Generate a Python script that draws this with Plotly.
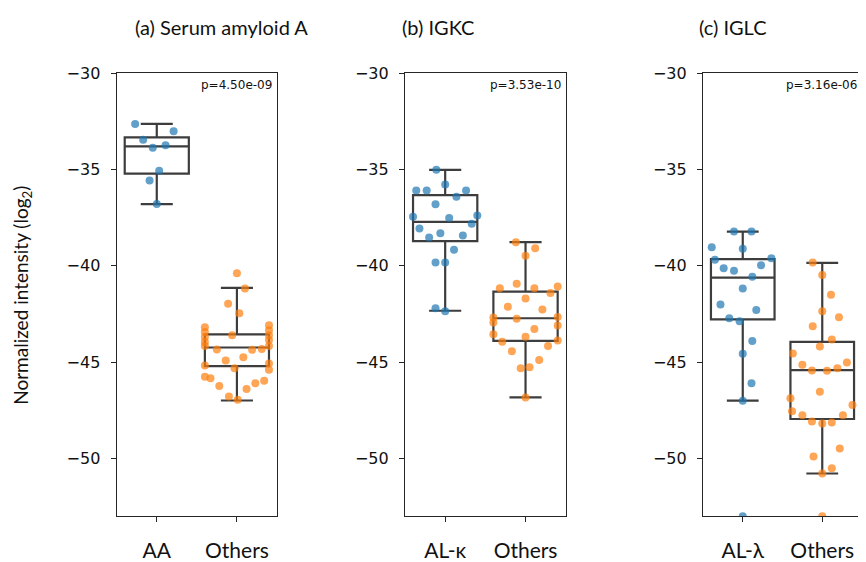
import plotly.graph_objects as go

# ---------------- data ----------------
panel_titles = ["(a) Serum amyloid A", "(b) IGKC", "(c) IGLC"]
p_values = ["p=4.50e-09", "p=3.53e-10", "p=3.16e-06"]
x_labels_a = ["AA", "Others"]
x_labels_b = ["AL-κ", "Others"]
x_labels_c = ["AL-λ", "Others"]
y_ticks = [-30, -35, -40, -45, -50]

# panel (a)
a_aa_vals = [-32.63, -33.01, -33.45, -33.87, -33.74, -35.06, -35.57, -36.79]
a_aa_jit = [-0.27, 0.21, -0.17, -0.05, 0.11, 0.03, -0.09, 0.0]
a_oth_vals = [-40.38, -41.17, -41.97, -42.46,
              -43.19, -43.44, -43.70, -43.95, -44.16,
              -43.09, -43.34, -43.60, -43.85, -44.16,
              -43.60, -44.34, -44.36, -44.32, -44.92, -44.74, -45.17, -45.07,
              -45.39, -45.31, -45.76, -45.83, -46.24, -45.96, -46.09, -46.39,
              -46.78, -46.95]
a_oth_jit = [0.0, 0.10, -0.11, 0.03,
             -0.4, -0.4, -0.4, -0.4, -0.4,
             0.4, 0.4, 0.4, 0.4, 0.4,
             -0.06, -0.25, 0.19, 0.31, -0.14, 0.08, -0.4, 0.4,
             0.4, -0.03, -0.4, -0.33, -0.22, 0.34, 0.23, 0.12,
             -0.10, 0.01]

# panel (b)
b_k_vals = [-35.01, -35.78, -36.09, -36.09, -36.09, -36.41, -36.80, -37.45,
            -37.51, -37.38, -37.82, -38.06, -38.53, -38.31, -38.43, -39.17,
            -39.83, -39.83, -42.20, -42.36]
b_k_jit = [-0.11, 0.0, -0.36, -0.23, 0.26, 0.14, -0.12, -0.40,
           0.05, 0.40, 0.33, -0.32, -0.20, -0.06, 0.22, 0.11,
           -0.12, 0.0, -0.12, 0.0]
b_oth_vals = [-38.78, -39.09, -39.48, -41.16, -40.93, -41.16, -41.07, -41.41,
              -41.69, -42.12, -42.26, -42.68, -42.94, -42.75, -42.66, -43.10,
              -43.28, -43.55, -43.68, -43.94, -43.87, -44.16, -44.43, -44.89,
              -45.26, -45.32, -46.83]
b_oth_jit = [-0.12, 0.12, 0.0, -0.32, -0.11, 0.11, 0.40, 0.31,
             0.0, -0.22, 0.21, -0.40, -0.40, -0.11, 0.40, 0.40,
             0.11, -0.40, 0.0, -0.29, 0.40, 0.28, -0.17, 0.17,
             0.05, -0.06, 0.0]

# panel (c)
c_l_vals = [-38.22, -38.22, -39.04, -39.11, -39.68, -39.60, -40.12, -40.26,
            -39.97, -40.56, -41.17, -42.00, -42.29, -42.72, -42.88, -43.90,
            -44.56, -46.10, -47.00, -53.00]
c_l_jit = [-0.11, 0.11, -0.39, 0.0, -0.35, 0.36, -0.24, -0.11,
           0.23, 0.12, 0.0, -0.28, 0.17, -0.17, -0.04, 0.12,
           0.0, 0.11, 0.0, 0.0]
c_oth_vals = [-39.83, -40.48, -41.50, -42.36, -42.67, -43.14, -43.83, -44.19,
              -44.55, -45.14, -45.02, -45.43, -45.44, -45.31, -46.54, -46.87,
              -47.55, -47.22, -47.76, -47.76, -48.08, -48.19, -48.13, -49.48,
              -49.90, -50.51, -50.78, -53.00]
c_oth_jit = [-0.12, 0.0, 0.11, 0.0, 0.21, -0.12, 0.12, -0.03,
             -0.37, -0.25, 0.31, -0.13, 0.06, 0.19, -0.03, -0.40,
             -0.38, 0.38, -0.25, 0.26, -0.13, 0.0, 0.12, 0.22,
             -0.11, 0.12, 0.0, 0.0]

# box statistics: [q1, median, q3, lower whisker, upper whisker]
a_aa_box = [-35.21, -33.80, -33.33, -36.80, -32.63]
a_oth_box = [-45.21, -44.24, -43.56, -46.99, -41.14]
b_k_box = [-38.72, -37.72, -36.33, -42.33, -35.02]
b_oth_box = [-43.90, -42.72, -41.34, -46.83, -38.77]
c_l_box = [-42.78, -40.61, -39.65, -47.00, -38.22]
c_oth_box = [-47.95, -45.41, -43.95, -50.78, -39.85]

# ---------------- styling ----------------
OFF = 8  # default body margin of the html page
W, H = 866 - OFF, 562 - OFF
BLUE = "#1f77b4"
ORANGE = "#ff7f0e"
BOXC = "#3d3d3d"
FRAME = "#262626"
panel_px = [(116.7, 277.0), (405.0, 565.7), (703.0, 862.0)]
plot_top, plot_bot = 65.5, 518.3
y_dom = [(H - (plot_bot - OFF)) / H, (H - (plot_top - OFF)) / H]
y_range = [-53.0, -30.0]


def px_x(p):
    return (p - OFF) / W


def px_y(p):
    return 1 - (p - OFF) / H


panels = [
    (a_aa_vals, a_aa_jit, a_aa_box, a_oth_vals, a_oth_jit, a_oth_box, x_labels_a),
    (b_k_vals, b_k_jit, b_k_box, b_oth_vals, b_oth_jit, b_oth_box, x_labels_b),
    (c_l_vals, c_l_jit, c_l_box, c_oth_vals, c_oth_jit, c_oth_box, x_labels_c),
]

fig = go.Figure()
layout = dict(width=W, height=H, margin=dict(l=0, r=0, t=0, b=0),
              paper_bgcolor="white", plot_bgcolor="white", showlegend=False,
              boxmode="overlay")

for i, (v0, j0, bx0, v1, j1, bx1, xl) in enumerate(panels):
    sfx = "" if i == 0 else str(i + 1)
    xa, ya = "x" + sfx, "y" + sfx
    for pos, bx in ((0, bx0), (1, bx1)):
        fig.add_trace(go.Box(
            x=[pos], q1=[bx[0]], median=[bx[1]], q3=[bx[2]],
            lowerfence=[bx[3]], upperfence=[bx[4]],
            width=0.8, whiskerwidth=0.5, boxpoints=False,
            line=dict(color=BOXC, width=2.2), fillcolor="rgba(0,0,0,0)",
            xaxis=xa, yaxis=ya, hoverinfo="skip"))
    for pos, vals, jit, col in ((0, v0, j0, BLUE), (1, v1, j1, ORANGE)):
        fig.add_trace(go.Scatter(
            x=[pos + j for j in jit], y=vals, mode="markers",
            marker=dict(color=col, size=8, opacity=0.7, line=dict(width=0)),
            xaxis=xa, yaxis=ya, cliponaxis=True, hoverinfo="skip"))
    x0, x1 = panel_px[i]
    layout["xaxis" + sfx] = dict(
        domain=[px_x(x0), px_x(x1)], anchor=ya, range=[-0.5, 1.5],
        tickmode="array", tickvals=[0, 1], ticktext=xl,
        showline=True, mirror=True, linecolor=FRAME, linewidth=1.3,
        ticks="outside", ticklen=5, tickcolor=FRAME, showgrid=False,
        zeroline=False, ticklabelstandoff=10,
        tickfont=dict(family="Lato", size=21, color="#111111"))
    layout["yaxis" + sfx] = dict(
        domain=y_dom, anchor=xa, range=y_range,
        tickmode="array", tickvals=y_ticks,
        ticktext=[str(t).replace("-", "\u2212") for t in y_ticks],
        showline=True, mirror=True, linecolor=FRAME, linewidth=1.3,
        ticks="outside", ticklen=5, tickcolor=FRAME, showgrid=False,
        zeroline=False, ticklabelstandoff=7,
        tickfont=dict(family="DejaVu Sans", size=16, color="#111111"))

annotations = []
title_x = [133, 400, 697]
for i in range(3):
    annotations.append(dict(
        text=panel_titles[i], xref="paper", yref="paper",
        x=px_x(title_x[i]), y=px_y(18), xanchor="left", yanchor="middle",
        showarrow=False, font=dict(family="Lato", size=20, color="#111111")))
    annotations.append(dict(
        text=p_values[i], xref="paper", yref="paper",
        x=px_x(panel_px[i][1] - 3), y=px_y(77), xanchor="right",
        yanchor="middle", showarrow=False,
        font=dict(family="DejaVu Sans", size=12, color="#111111")))
annotations.append(dict(
    text="Normalized intensity (log<sub>2</sub>)", xref="paper", yref="paper",
    x=px_x(22), y=px_y(293), xanchor="center", yanchor="middle",
    textangle=-90, showarrow=False,
    font=dict(family="Lato", size=19, color="#111111")))
layout["annotations"] = annotations

fig.update_layout(**layout)
fig.write_html("out.html")
